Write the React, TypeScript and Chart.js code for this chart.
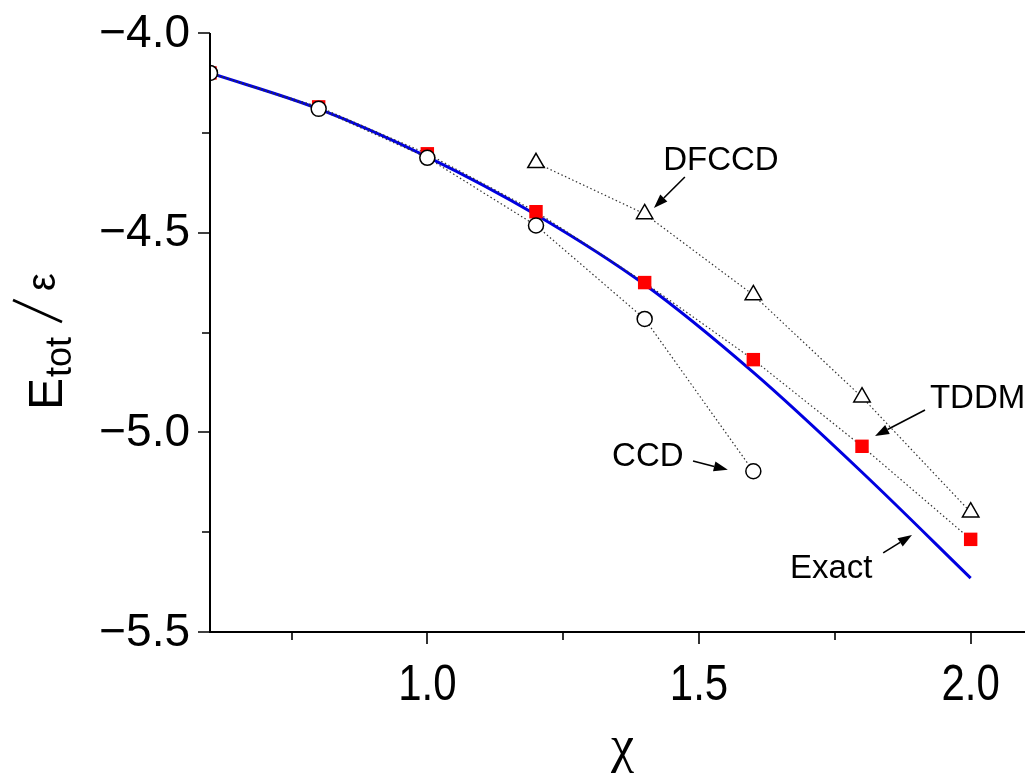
import React, { useEffect, useRef } from 'react';
import { Chart, registerables } from 'chart.js';

Chart.register(...registerables);

// ---- Data ----
const chiGrid = [0.6, 0.8, 1.0, 1.2, 1.4, 1.6, 1.8, 2.0];
const exactValues = [-4.1, -4.19, -4.31, -4.455, -4.63, -4.85, -5.1, -5.365];
const tddmValues = [-4.1, -4.185, -4.3025, -4.4475, -4.625, -4.818, -5.035, -5.268];
const ccdChi = [0.6, 0.8, 1.0, 1.2, 1.4, 1.6];
const ccdValues = [-4.1, -4.19, -4.3125, -4.482, -4.716, -5.0975];
const dfccdChi = [1.2, 1.4, 1.6, 1.8, 2.0];
const dfccdValues = [-4.325, -4.453, -4.656, -4.912, -5.2];

const xMajorTicks = [1.0, 1.5, 2.0];
const xMinorTicks = [0.75, 1.25, 1.75];
const yMajorTicks = [-5.5, -5.0, -4.5, -4.0];
const yMinorTicks = [-5.25, -4.75, -4.25];

// annotation labels: text, text anchor (data), arrow start/end (data)
const annotationLabels = ['DFCCD', 'TDDM', 'CCD', 'Exact'];
const annotationTextAt = [
  [1.434, -4.343],
  [1.925, -4.939],
  [1.34, -5.084],
  [1.6675, -5.365],
];
const annotationArrowFrom = [
  [1.474, -4.3606],
  [1.916, -4.944],
  [1.489, -5.072],
  [1.839, -5.302],
];
const annotationArrowTo = [
  [1.417, -4.438],
  [1.824, -5.009],
  [1.553, -5.094],
  [1.892, -5.257],
];

const SANS = '"Liberation Sans", Arial, sans-serif';

function drawArrow(ctx: CanvasRenderingContext2D, x1: number, y1: number, x2: number, y2: number) {
  const ang = Math.atan2(y2 - y1, x2 - x1);
  const len = 14;
  const hw = 5;
  const bx = x2 - Math.cos(ang) * len;
  const by = y2 - Math.sin(ang) * len;
  ctx.beginPath();
  ctx.moveTo(x1, y1);
  ctx.lineTo(bx, by);
  ctx.lineWidth = 1.6;
  ctx.strokeStyle = '#000';
  ctx.stroke();
  ctx.beginPath();
  ctx.moveTo(x2, y2);
  ctx.lineTo(bx + Math.sin(ang) * hw, by - Math.cos(ang) * hw);
  ctx.lineTo(bx - Math.sin(ang) * hw, by + Math.cos(ang) * hw);
  ctx.closePath();
  ctx.fillStyle = '#000';
  ctx.fill();
}

const decorPlugin = {
  id: 'decor',
  afterDraw(chart: any) {
    const ctx: CanvasRenderingContext2D = chart.ctx;
    const xs = chart.scales.x;
    const ys = chart.scales.y;
    const { left, right, top, bottom } = chart.chartArea;
    ctx.save();
    // axes lines
    ctx.strokeStyle = '#000';
    ctx.lineWidth = 2;
    ctx.beginPath();
    ctx.moveTo(left, top);
    ctx.lineTo(left, bottom + 1);
    ctx.moveTo(left - 1, bottom);
    ctx.lineTo(right, bottom);
    ctx.stroke();
    // ticks
    ctx.lineWidth = 1.6;
    ctx.beginPath();
    yMajorTicks.forEach((v) => {
      const p = Math.round(ys.getPixelForValue(v));
      ctx.moveTo(left - 12, p);
      ctx.lineTo(left, p);
    });
    yMinorTicks.forEach((v) => {
      const p = Math.round(ys.getPixelForValue(v));
      ctx.moveTo(left - 8, p);
      ctx.lineTo(left, p);
    });
    xMajorTicks.forEach((v) => {
      const p = Math.round(xs.getPixelForValue(v));
      ctx.moveTo(p, bottom);
      ctx.lineTo(p, bottom + 12);
    });
    xMinorTicks.forEach((v) => {
      const p = Math.round(xs.getPixelForValue(v));
      ctx.moveTo(p, bottom);
      ctx.lineTo(p, bottom + 8);
    });
    ctx.stroke();

    // x tick labels (condensed), from the scale's ticks
    ctx.fillStyle = '#000';
    ctx.font = '50px ' + SANS;
    ctx.textAlign = 'center';
    ctx.textBaseline = 'alphabetic';
    xs.ticks.forEach((t: any) => {
      const p = xs.getPixelForValue(t.value);
      ctx.save();
      ctx.translate(p, bottom + 68);
      ctx.scale(0.84, 1);
      ctx.fillText(Number(t.value).toFixed(1), 0, 0);
      ctx.restore();
    });

    // y tick labels, from the scale's ticks
    ctx.font = '46px ' + SANS;
    ctx.textAlign = 'right';
    ctx.textBaseline = 'middle';
    ys.ticks.forEach((t: any) => {
      const v = Number(t.value);
      const label = (v < 0 ? '\u2212' : '') + Math.abs(v).toFixed(1);
      ctx.fillText(label, left - 20, ys.getPixelForValue(v) + 1);
    });

    // annotations
    ctx.font = '33px ' + SANS;
    ctx.textAlign = 'left';
    ctx.textBaseline = 'alphabetic';
    annotationLabels.forEach((t, i) => {
      const [tx, ty] = annotationTextAt[i];
      ctx.fillText(t, xs.getPixelForValue(tx), ys.getPixelForValue(ty));
      const [ax, ay] = annotationArrowFrom[i];
      const [bx, by] = annotationArrowTo[i];
      drawArrow(
        ctx,
        xs.getPixelForValue(ax),
        ys.getPixelForValue(ay),
        xs.getPixelForValue(bx),
        ys.getPixelForValue(by)
      );
    });

    // y axis title: E_tot / ε
    ctx.save();
    ctx.translate(62, 410);
    ctx.rotate(-Math.PI / 2);
    ctx.fillStyle = '#000';
    ctx.strokeStyle = '#000';
    ctx.textAlign = 'left';
    ctx.textBaseline = 'alphabetic';
    ctx.font = '48px ' + SANS;
    ctx.fillText('E', 0, 0);
    ctx.font = '36px ' + SANS;
    ctx.fillText('tot', 33, 9);
    // thin long solidus
    ctx.lineWidth = 2.6;
    ctx.beginPath();
    ctx.moveTo(88, 0);
    ctx.lineTo(110, -49);
    ctx.stroke();
    ctx.font = '40px ' + SANS;
    ctx.fillText('ε', 119, -7);
    ctx.restore();

    // x axis title
    ctx.textAlign = 'center';
    ctx.font = '52px "Liberation Serif", "DejaVu Serif", serif';
    ctx.fillText('χ', (left + right) / 2 + 5, 762);

    ctx.restore();
  },
};

export default function App() {
  const ref = useRef<HTMLCanvasElement>(null);
  useEffect(() => {
    const canvas = ref.current;
    if (!canvas) return;
    const dotted = {
      showLine: true,
      borderColor: '#333333',
      borderWidth: 1.2,
      borderDash: [1.5, 2.5],
      tension: 0,
    };
    const chart = new Chart(canvas, {
      type: 'scatter',
      data: {
        datasets: [
          {
            label: 'DFCCD',
            data: dfccdChi.map((x, i) => ({ x, y: dfccdValues[i] })),
            ...dotted,
            pointStyle: 'triangle',
            pointRadius: 9.5,
            pointBackgroundColor: '#ffffff',
            pointBorderColor: '#000000',
            pointBorderWidth: 1.5,
            order: 1,
          },
          {
            label: 'CCD',
            data: ccdChi.map((x, i) => ({ x, y: ccdValues[i] })),
            ...dotted,
            pointStyle: 'circle',
            pointRadius: 7.5,
            pointBackgroundColor: '#ffffff',
            pointBorderColor: '#000000',
            pointBorderWidth: 1.5,
            order: 2,
          },
          {
            label: 'TDDM',
            data: chiGrid.map((x, i) => ({ x, y: tddmValues[i] })),
            ...dotted,
            pointStyle: 'rect',
            pointRadius: 9.5,
            pointBackgroundColor: '#ff0000',
            pointBorderColor: '#ff0000',
            pointBorderWidth: 0,
            order: 3,
          },
          {
            label: 'Exact',
            data: chiGrid.map((x, i) => ({ x, y: exactValues[i] })),
            showLine: true,
            borderColor: '#0000e0',
            borderWidth: 3,
            pointRadius: 0,
            cubicInterpolationMode: 'monotone',
            order: 4,
          },
        ],
      } as any,
      options: {
        responsive: false,
        devicePixelRatio: 1,
        animation: false,
        events: [],
        layout: { autoPadding: false, padding: { top: 33, right: 7, left: 0, bottom: 0 } },
        plugins: {
          legend: { display: false },
          tooltip: { enabled: false },
          title: { display: false },
        },
        scales: {
          x: {
            type: 'linear',
            position: 'bottom',
            min: 0.6,
            max: 2.1,
            grid: { display: false, drawTicks: false },
            border: { display: false },
            afterBuildTicks: (s: any) => {
              s.ticks = xMajorTicks.map((v) => ({ value: v }));
            },
            afterFit: (s: any) => {
              s.height = 146;
            },
            ticks: { display: false },
          },
          y: {
            type: 'linear',
            position: 'left',
            min: -5.5,
            max: -4.0,
            grid: { display: false, drawTicks: false },
            border: { display: false },
            afterBuildTicks: (s: any) => {
              s.ticks = yMajorTicks.map((v) => ({ value: v }));
            },
            afterFit: (s: any) => {
              s.width = 210;
            },
            ticks: { display: false },
          },
        },
      } as any,
      plugins: [decorPlugin],
    });
    return () => chart.destroy();
  }, []);
  return (
    <div style={{ position: 'fixed', left: 0, top: 0, width: 1032, height: 778, background: '#ffffff' }}>
      <canvas ref={ref} width={1032} height={778} style={{ display: 'block', width: 1032, height: 778 }} />
    </div>
  );
}
